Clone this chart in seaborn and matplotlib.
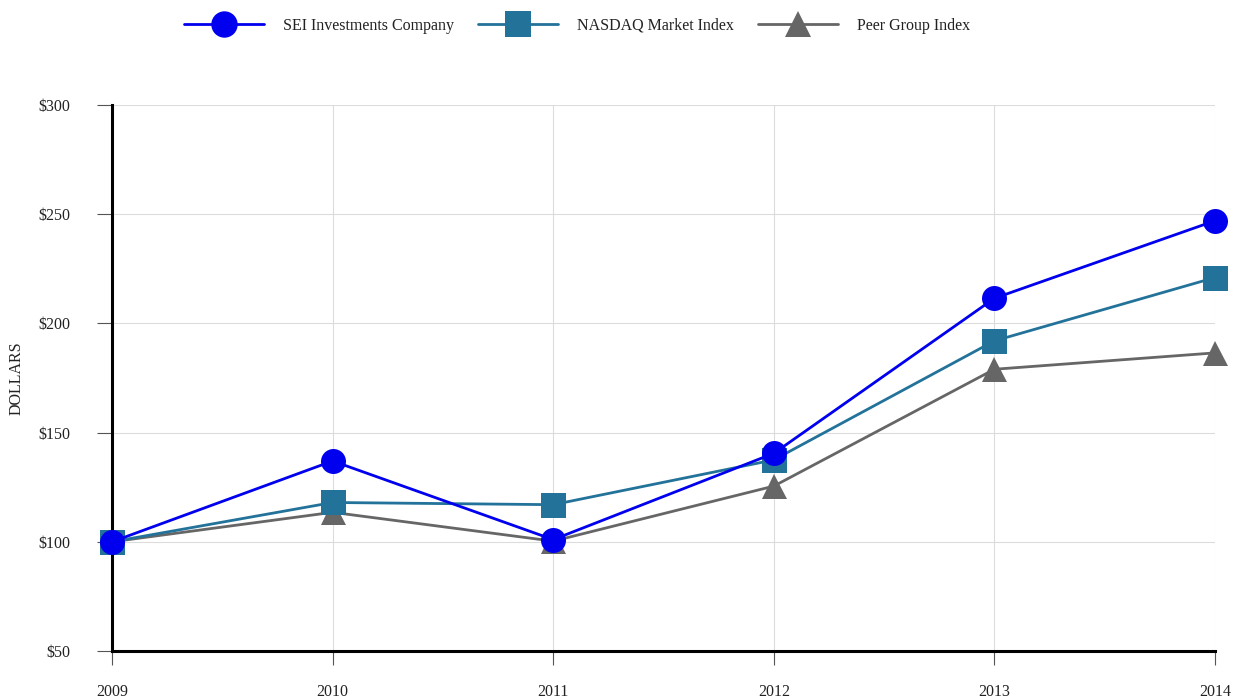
import matplotlib
matplotlib.use("Agg")
import matplotlib.pyplot as plt
import seaborn as sns
import pandas as pd
from matplotlib.lines import Line2D

years = [2009, 2010, 2011, 2012, 2013, 2014]
sei = [100, 137, 101, 140.5, 211.5, 247]
nasdaq = [100, 118, 117, 137.5, 192, 221]
peer = [100, 113.5, 100.3, 125.5, 179, 186.5]
series_names = ["SEI Investments Company", "NASDAQ Market Index", "Peer Group Index"]
y_ticks = [50, 100, 150, 200, 250, 300]
y_tick_labels = ["$50", "$100", "$150", "$200", "$250", "$300"]

colors = {"SEI Investments Company": "#0000EE",
          "NASDAQ Market Index": "#23729A",
          "Peer Group Index": "#666666"}
markers = {"SEI Investments Company": "o",
           "NASDAQ Market Index": "s",
           "Peer Group Index": "^"}

df = pd.concat([
    pd.DataFrame({"Year": years, "Value": vals, "Series": name})
    for name, vals in zip(series_names, [sei, nasdaq, peer])
])

sns.set_theme(style="white")
plt.rcParams['font.family'] = ['Liberation Serif', 'DejaVu Serif']

fig = plt.figure(figsize=(12.37, 7), dpi=100)
ax = fig.add_axes([112/1237, 49/700, (1215-112)/1237, (651-105)/700])

order = ["Peer Group Index", "NASDAQ Market Index", "SEI Investments Company"]
sns.lineplot(data=df, x="Year", y="Value", hue="Series", style="Series",
             hue_order=order, style_order=order,
             palette=colors, markers=markers, dashes=False,
             markersize=18, linewidth=2.0, markeredgewidth=0,
             legend=False, ax=ax, clip_on=False)
for i, ln in enumerate(ax.lines):
    ln.set_clip_on(False)
    ln.set_zorder(3 + i)

ax.set_xlim(2009, 2014)
ax.set_ylim(50, 300)
ax.set_xticks(years)
ax.set_xticklabels([str(y) for y in years])
ax.set_yticks(y_ticks)
ax.set_yticklabels(y_tick_labels)
ax.grid(True, color="#dcdcdc", linewidth=0.8)
ax.set_axisbelow(True)

for s in ["top", "right"]:
    ax.spines[s].set_visible(False)
for s in ["left", "bottom"]:
    ax.spines[s].set_color("black")
    ax.spines[s].set_linewidth(2.2)
    ax.spines[s].set_zorder(2.5)

ax.tick_params(axis="y", direction="out", length=11, width=0.8, color="#555555",
               pad=19, labelsize=11.5, labelcolor="#222222", left=True)
ax.tick_params(axis="x", direction="out", length=10, width=0.8, color="#555555",
               pad=14, labelsize=11.5, labelcolor="#222222", bottom=True)

ax.set_xlabel("")
ax.set_ylabel("DOLLARS", fontsize=11.5, color="#222222", labelpad=10)

handles = [Line2D([0], [0], color=colors[n], marker=markers[n], markersize=19,
                  markeredgewidth=0, linewidth=2.0) for n in series_names]
fig.legend(handles, series_names, loc="center", bbox_to_anchor=(577/1237, 1 - 26/700),
           ncol=3, frameon=False, fontsize=11.5, handlelength=5.0,
           handletextpad=1.2, columnspacing=1.5, labelcolor="#222222")

fig.savefig("out.png", dpi=100)
